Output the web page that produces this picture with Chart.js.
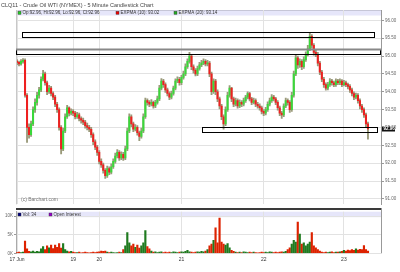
<!DOCTYPE html>
<html lang="en">
<head>
<meta charset="UTF-8" />
<title>CLQ11 - Crude Oil WTI (NYMEX)</title>
<script src="https://cdn.jsdelivr.net/npm/chart.js"></script>
<style>
  body { margin: 0; background: #fff; }
  #wrap { position: relative; width: 400px; height: 272px; overflow: hidden; }
  canvas { position: absolute; left: 0; }
</style>
</head>
<body>
<div id="wrap">
  <canvas id="priceChart" width="400" height="208" style="top:0"></canvas>
  <canvas id="volChart" width="400" height="64" style="top:208px"></canvas>
</div>
<script>
// 5 minute bars (one entry per ~2px column)
const closes = [
  94.82, 94.78, 94.85, 94.88, 93.90, 93.00, 92.80, 93.10, 93.50, 93.70,
  93.90, 94.05, 94.35, 94.50, 94.25, 94.00, 94.10, 93.95, 93.85, 93.65,
  93.50, 93.00, 92.40, 92.90, 93.30, 93.55, 93.40, 93.45, 93.40, 93.30,
  93.35, 93.25, 93.20, 93.15, 93.05, 93.00, 92.95, 92.80, 92.60, 92.45,
  92.30, 92.05, 91.95, 91.80, 91.65, 91.85, 91.75, 91.90, 92.05, 92.20,
  92.30, 92.15, 92.25, 92.15, 92.40, 92.90, 93.30, 93.10, 92.95, 93.00,
  92.85, 92.75, 92.90, 93.30, 93.75, 93.70, 93.65, 93.70, 93.60, 93.70,
  93.80, 94.10, 94.30, 94.20, 94.05, 93.95, 93.85, 93.95, 94.10, 94.30,
  94.35, 94.25, 94.40, 94.50, 94.70, 94.85, 95.00, 94.70, 94.60, 94.50,
  94.65, 94.75, 94.80, 94.85, 94.78, 94.80, 94.50, 94.00, 94.30, 94.00,
  93.80, 93.60, 93.30, 93.10, 93.50, 93.90, 94.10, 93.80, 93.65, 93.75,
  93.60, 93.70, 93.65, 93.75, 93.85, 93.95, 93.80, 93.70, 93.75, 93.65,
  93.60, 93.55, 93.45, 93.40, 93.50, 93.65, 93.75, 93.85, 93.80, 93.70,
  93.55, 93.40, 93.35, 93.60, 93.75, 93.70, 93.50, 93.90, 94.50, 94.95,
  94.75, 94.85, 94.70, 94.90, 95.05, 95.20, 95.55, 95.30, 95.10, 95.05,
  94.80, 94.55, 94.35, 94.20, 94.10, 94.20, 94.30, 94.25, 94.20, 94.30,
  94.25, 94.30, 94.20, 94.25, 94.20, 94.15, 94.05, 93.95, 93.85, 93.90,
  93.75, 93.60, 93.50, 93.35, 93.10, 92.96
];
const highs = [
  94.90, 94.86, 94.90, 94.93, 94.92, 93.95, 93.10, 93.18, 93.58, 93.80,
  93.98, 94.12, 94.42, 94.60, 94.55, 94.30, 94.18, 94.15, 94.00, 93.90,
  93.70, 93.55, 93.05, 92.98, 93.38, 93.62, 93.58, 93.52, 93.50, 93.45,
  93.42, 93.40, 93.30, 93.26, 93.20, 93.12, 93.06, 93.00, 92.85, 92.65,
  92.50, 92.35, 92.12, 92.00, 91.85, 91.92, 91.90, 91.98, 92.12, 92.28,
  92.38, 92.35, 92.32, 92.30, 92.48, 92.98, 93.38, 93.35, 93.15, 93.08,
  93.05, 92.90, 92.98, 93.38, 93.82, 93.80, 93.75, 93.78, 93.74, 93.76,
  93.88, 94.18, 94.37, 94.35, 94.25, 94.10, 94.00, 94.02, 94.16, 94.36,
  94.42, 94.40, 94.46, 94.58, 94.78, 94.92, 95.10, 95.05, 94.75, 94.65,
  94.72, 94.82, 94.88, 94.92, 94.90, 94.88, 94.85, 94.55, 94.36, 94.35,
  94.05, 93.85, 93.65, 93.35, 93.58, 93.98, 94.17, 94.12, 93.85, 93.82,
  93.80, 93.77, 93.75, 93.82, 93.90, 94.00, 93.98, 93.84, 93.82, 93.80,
  93.70, 93.66, 93.60, 93.50, 93.56, 93.72, 93.82, 93.92, 93.90, 93.84,
  93.75, 93.60, 93.45, 93.66, 93.82, 93.80, 93.75, 93.98, 94.58, 95.05,
  95.00, 94.92, 94.90, 94.98, 95.12, 95.30, 95.66, 95.60, 95.35, 95.18,
  95.10, 94.85, 94.60, 94.40, 94.25, 94.26, 94.37, 94.35, 94.30, 94.36,
  94.35, 94.36, 94.34, 94.32, 94.30, 94.24, 94.20, 94.10, 94.00, 93.96,
  93.95, 93.80, 93.65, 93.55, 93.40, 93.15
];
const lows = [
  94.76, 94.72, 94.74, 94.80, 93.85, 92.58, 92.70, 92.75, 93.05, 93.42,
  93.62, 93.82, 94.00, 94.30, 94.18, 93.92, 93.95, 93.88, 93.78, 93.58,
  93.42, 92.92, 92.26, 92.35, 92.85, 93.25, 93.32, 93.35, 93.33, 93.24,
  93.25, 93.18, 93.12, 93.08, 92.98, 92.93, 92.88, 92.72, 92.52, 92.38,
  92.22, 91.98, 91.88, 91.72, 91.57, 91.60, 91.68, 91.70, 91.85, 92.00,
  92.15, 92.08, 92.10, 92.08, 92.10, 92.35, 92.85, 93.02, 92.88, 92.90,
  92.78, 92.63, 92.70, 92.85, 93.25, 93.62, 93.58, 93.60, 93.54, 93.55,
  93.65, 93.75, 94.05, 94.12, 93.98, 93.88, 93.78, 93.80, 93.90, 94.05,
  94.25, 94.18, 94.20, 94.35, 94.45, 94.65, 94.80, 94.62, 94.52, 94.44,
  94.45, 94.60, 94.70, 94.76, 94.72, 94.72, 94.42, 93.92, 93.95, 93.92,
  93.72, 93.52, 93.22, 92.95, 93.05, 93.45, 93.85, 93.72, 93.58, 93.60,
  93.54, 93.55, 93.58, 93.60, 93.70, 93.80, 93.74, 93.64, 93.66, 93.58,
  93.54, 93.48, 93.38, 93.33, 93.35, 93.45, 93.60, 93.70, 93.74, 93.64,
  93.48, 93.33, 93.25, 93.30, 93.55, 93.62, 93.42, 93.45, 93.85, 94.45,
  94.65, 94.68, 94.62, 94.65, 94.85, 95.00, 95.15, 95.22, 95.02, 94.98,
  94.72, 94.48, 94.28, 94.12, 94.04, 94.05, 94.15, 94.18, 94.14, 94.15,
  94.20, 94.20, 94.14, 94.16, 94.14, 94.08, 93.98, 93.88, 93.78, 93.80,
  93.68, 93.52, 93.42, 93.28, 93.02, 92.67
];
const volumes = [
  200, 300, 200, 300, 3300, 1200, 500, 400, 600, 300,
  500, 400, 1200, 1800, 1000, 2000, 1500, 2200, 1300, 2200,
  1600, 2600, 1400, 2600, 1000, 600, 400, 500, 300, 200,
  200, 300, 100, 200, 300, 200, 100, 200, 300, 200,
  300, 400, 600, 500, 600, 300, 200, 300, 200, 100,
  200, 300, 200, 1000, 2000, 5600, 2800, 2000, 2500, 1600,
  2200, 1400, 2000, 2800, 6100, 1800, 1200, 600, 300, 400,
  200, 300, 400, 200, 300, 200, 300, 200, 400, 300,
  200, 300, 400, 300, 500, 800, 400, 300, 200, 300,
  400, 300, 500, 400, 600, 1000, 2000, 2500, 3500, 6900,
  2800, 9500, 3000, 2500, 2200, 2600, 1500, 800, 500, 300,
  200, 300, 200, 400, 300, 200, 300, 200, 300, 200,
  100, 200, 300, 200, 300, 200, 400, 300, 200, 300,
  200, 300, 400, 300, 500, 1000, 1500, 2500, 3500, 3000,
  8400, 5200, 2500, 2800, 2000, 2500, 3000, 5600, 2000, 1500,
  1000, 600, 300, 200, 300, 200, 300, 400, 200, 300,
  300, 400, 500, 800, 600, 900, 700, 1000, 800, 1200,
  900, 1100, 1000, 2100, 1000, 600
];
const firstOpen = 94.86;
const totalBars = 182;

const dayIdx = [0, 28, 41, 82, 123, 163];
const dayLabels = ['17 Jun', '19', '20', '21', '22', '23'];
const priceTicks = [91, 91.5, 92, 92.5, 93, 93.5, 94, 94.5, 95, 95.5, 96];
const volTicks = [0, 5000, 10000];
const volTickLabels = ['0K', '5K', '10K'];

// drawn-on boxes, in bar index / price units
const boxFrom = [2.5, -0.5, 92];
const boxTo = [178.5, 181.5, 180];
const boxHigh = [95.684, 95.21, 93.016];
const boxLow = [95.519, 95.044, 92.87];

const title = 'CLQ11 - Crude Oil WTI (NYMEX) - 5 Minute Candlestick Chart';
const ohlcText = 'Op:92.96, Hi:92.96, Lo:92.96, Cl:92.96';
const ema10Text = 'EXPMA (10): 93.02';
const ema20Text = 'EXPMA (20): 93.14';

const FONT = '"Liberation Sans", Arial, sans-serif';
Chart.defaults.font.family = FONT;

const labels = Array.from({ length: totalBars }, (_, i) => i);
const opens = closes.map((c, i) => i === 0 ? firstOpen : closes[i - 1]);
const isUp = i => closes[i] >= opens[i];

function legendItem(ctx, x, y, color, text) {
  ctx.fillStyle = color;
  ctx.fillRect(x, y - 1.5, 3, 3);
  ctx.strokeStyle = '#333';
  ctx.lineWidth = 0.4;
  ctx.strokeRect(x, y - 1.5, 3, 3);
  ctx.fillStyle = '#333';
  ctx.fillText(text, x + 4.5, y + 0.2);
}

const pricePanel = {
  id: 'pricePanel',
  beforeDraw(chart) {
    const { ctx, chartArea: a } = chart;
    ctx.save();
    ctx.fillStyle = '#e6e6fa';
    ctx.fillRect(a.left, a.top, a.right - a.left, 5.5);
    ctx.fillStyle = '#b8b8c8';
    ctx.fillRect(a.left, a.top, a.right - a.left, 0.7);
    ctx.restore();
  },
  afterDraw(chart) {
    const { ctx, chartArea: a, scales } = chart;
    const xs = scales.x, ys = scales.y;
    ctx.save();
    // left edge
    ctx.fillStyle = '#c8c8c8';
    ctx.fillRect(a.left, a.top, 1, a.bottom - a.top);

    // title
    ctx.font = '5.5px ' + FONT;
    ctx.textBaseline = 'middle';
    ctx.fillStyle = '#444';
    ctx.fillText(title, 1, 5);

    // legend strip
    ctx.font = '4.5px ' + FONT;
    legendItem(ctx, a.left + 2, a.top + 2.8, '#22cc22', ohlcText);
    legendItem(ctx, 116, a.top + 2.8, '#ee0000', ema10Text);
    legendItem(ctx, 174, a.top + 2.8, '#22aa22', ema20Text);

    // drawn boxes
    ctx.strokeStyle = '#000';
    ctx.lineWidth = 1;
    boxFrom.forEach((f, k) => {
      const x1 = Math.round(xs.getPixelForValue(f)) + 0.5;
      const x2 = Math.round(xs.getPixelForValue(boxTo[k])) - 0.5;
      const y1 = Math.round(ys.getPixelForValue(boxHigh[k])) + 0.5;
      const y2 = Math.round(ys.getPixelForValue(boxLow[k])) + 0.5;
      ctx.strokeRect(x1, y1, x2 - x1, y2 - y1);
      if (k === 1) {
        ctx.fillStyle = '#888';
        ctx.fillRect(x1 - 0.5, y1 - 1, x2 - x1 + 1, 2);
      }
    });

    // copyright
    ctx.font = '5px ' + FONT;
    ctx.fillStyle = '#777';
    ctx.fillText('(c) Barchart.com', a.left + 5, a.bottom - 5);

    // last price tag
    const last = closes[closes.length - 1];
    const yp = Math.round(ys.getPixelForValue(last));
    ctx.fillStyle = '#111';
    ctx.fillRect(a.right + 1, yp - 2.5, 13, 5);
    ctx.font = 'bold 4.5px ' + FONT;
    ctx.fillStyle = '#fff';
    ctx.fillText(last.toFixed(2), a.right + 2.5, yp + 0.2);
    ctx.restore();
  }
};

new Chart(document.getElementById('priceChart'), {
  type: 'bar',
  data: {
    labels: labels,
    datasets: [
      {
        data: closes.map((c, i) => [opens[i], c]),
        backgroundColor: ctx => isUp(ctx.dataIndex) ? '#3ad83a' : '#ee2020',
        barThickness: 1.4,
        minBarLength: 1,
        grouped: false,
        order: 0
      },
      {
        data: lows.map((l, i) => [l, highs[i]]),
        backgroundColor: '#9a9a7a',
        barThickness: 1.2,
        grouped: false,
        order: 1
      }
    ]
  },
  options: {
    responsive: false,
    animation: false,
    devicePixelRatio: 1,
    layout: { padding: { left: 16, top: 10, right: 0, bottom: 0 } },
    plugins: { legend: { display: false }, tooltip: { enabled: false } },
    scales: {
      x: {
        offset: true,
        grid: { color: '#e2e2e2', offset: false, drawTicks: false },
        border: { display: false },
        ticks: { display: false, autoSkip: false },
        afterBuildTicks: s => { s.ticks = dayIdx.map(v => ({ value: v })); },
        afterFit: s => { s.height = 0; }
      },
      y: {
        position: 'right',
        min: 90.848,
        max: 96.288,
        grid: { color: '#e2e2e2', tickLength: 3, tickColor: '#999' },
        border: { color: '#999' },
        ticks: {
          font: { size: 4.5 },
          color: '#666',
          padding: 1,
          callback: v => v.toFixed(2)
        },
        afterBuildTicks: s => { s.ticks = priceTicks.map(v => ({ value: v })); },
        afterFit: s => { s.width = 19; }
      }
    }
  },
  plugins: [pricePanel]
});

const volPanel = {
  id: 'volPanel',
  beforeDraw(chart) {
    const { ctx, chartArea: a } = chart;
    ctx.save();
    ctx.fillStyle = '#e6e6fa';
    ctx.fillRect(a.left, a.top, a.right - a.left, 5.5);
    ctx.fillStyle = '#3a3a3a';
    ctx.fillRect(a.left, 0, a.right - a.left, 2);
    ctx.restore();
  },
  afterDraw(chart) {
    const { ctx, chartArea: a } = chart;
    ctx.save();
    ctx.fillStyle = '#999';
    ctx.fillRect(a.right, 0, 1, a.bottom);
    ctx.font = '4.5px ' + FONT;
    ctx.textBaseline = 'middle';
    legendItem(ctx, a.left + 2, a.top + 2.8, '#000080', 'Vol: 34');
    legendItem(ctx, 49, a.top + 2.8, '#9900cc', 'Open Interest');
    ctx.restore();
  }
};

new Chart(document.getElementById('volChart'), {
  type: 'bar',
  data: {
    labels: labels,
    datasets: [{
      data: volumes,
      backgroundColor: ctx => isUp(ctx.dataIndex) ? '#1f7a1f' : '#dd2200',
      barThickness: 1.5,
      grouped: false
    }]
  },
  options: {
    responsive: false,
    animation: false,
    devicePixelRatio: 1,
    layout: { padding: { left: 0, top: 2, right: 19, bottom: 0 } },
    plugins: { legend: { display: false }, tooltip: { enabled: false } },
    scales: {
      x: {
        offset: true,
        grid: { color: '#e2e2e2', offset: false, drawTicks: false },
        border: { display: false },
        ticks: {
          font: { size: 5 },
          color: '#333',
          padding: 3,
          maxRotation: 0,
          autoSkip: false,
          callback: (v, i) => dayLabels[i]
        },
        afterBuildTicks: s => { s.ticks = dayIdx.map(v => ({ value: v })); },
        afterFit: s => { s.height = 18.7; }
      },
      y: {
        position: 'left',
        min: 0,
        max: 11220,
        grid: { color: '#e2e2e2', tickLength: 2, tickColor: '#999' },
        border: { color: '#aaa' },
        ticks: {
          font: { size: 4.5 },
          color: '#666',
          padding: 1,
          callback: (v, i) => volTickLabels[i]
        },
        afterBuildTicks: s => { s.ticks = volTicks.map(v => ({ value: v })); },
        afterFit: s => { s.width = 16; }
      }
    }
  },
  plugins: [volPanel]
});
</script>
</body>
</html>
